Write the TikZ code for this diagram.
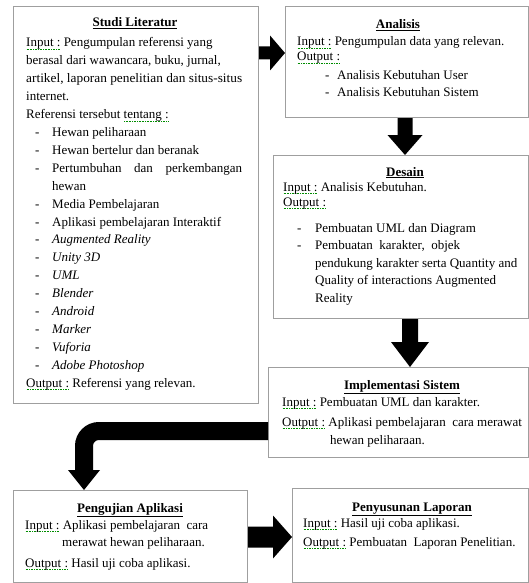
\documentclass[tikz,border=0pt]{standalone}
\usepackage{fontspec}
\usepackage{graphicx}
\setmainfont{Liberation Serif}
\usetikzlibrary{calc}

% green dotted spell-check style underline
\newcommand\sq[1]{\setbox0\hbox{#1}\rlap{\color{green!55!black}\raisebox{-2.8pt}{\hbox to \wd0{\xleaders\hbox to 1.6pt{\hss\rule{0.9pt}{0.7pt}\hss}\hfill}}}\box0{}}
\newcommand\ttl[1]{\underline{\textbf{#1}}}

\tikzset{
  box/.style={draw=gray!75, line width=1.1pt, rectangle, anchor=north west, inner sep=0pt},
  txt/.style={anchor=base west, inner sep=0pt, font=\fontsize{13}{15}\selectfont},
  ttlnode/.style={anchor=base, inner sep=0pt, font=\fontsize{13}{15}\selectfont},
  flow/.style={fill=black}
}

% right-pointing block arrow: start, tip, shaft half height, head half height, head length
\newcommand\rarrow[5]{\fill[flow] ($(#1)+(0,-#3)$) -- ($(#2)+(-#5,-#3)$) -- ($(#2)+(-#5,-#4)$) -- (#2) -- ($(#2)+(-#5,#4)$) -- ($(#2)+(-#5,#3)$) -- ($(#1)+(0,#3)$) -- cycle;}
% downward block arrow
\newcommand\darrow[5]{\fill[flow] ($(#1)+(-#3,0)$) -- ($(#2)+(-#3,-#5)$) -- ($(#2)+(-#4,-#5)$) -- (#2) -- ($(#2)+(#4,-#5)$) -- ($(#2)+(#3,-#5)$) -- ($(#1)+(#3,0)$) -- cycle;}

\begin{document}
\begin{tikzpicture}[x=1pt,y=-1pt]
\useasboundingbox (0,0) rectangle (529,583);

% ---------- boxes ----------
\node[box, minimum width=245pt, minimum height=397pt] (studi) at (13,6) {};
\node[box, minimum width=243pt, minimum height=111pt] (analisis) at (285,6) {};
\node[box, minimum width=255pt, minimum height=163pt] (desain) at (273,155) {};
\node[box, minimum width=260pt, minimum height=90pt] (impl) at (268,367) {};
\node[box, minimum width=234pt, minimum height=92pt] (uji) at (13,490) {};
\node[box, minimum width=236pt, minimum height=94pt] (lapor) at (292,488) {};

% ---------- Studi Literatur ----------
\node[ttlnode] (s0) at (135,27) {\ttl{Studi Literatur}};
\node[txt] (s1) at (26,47) {\sq{Input :} Pengumpulan referensi yang};
\node[txt] (s2) at (26,64.9) {berasal dari wawancara, buku, jurnal,};
\node[txt] (s3) at (26,82.8) {\resizebox{216pt}{\height}{artikel, laporan penelitian dan situs-situs}};
\node[txt] (s4) at (26,100.7) {internet.};
\node[txt] (s5) at (26,118.6) {Referensi tersebut \sq{tentang :}};
\foreach \i/\t/\y in {
  6/{Hewan peliharaan}/136.5,
  7/{Hewan bertelur dan beranak}/154.4,
  8/{\makebox[190pt][s]{Pertumbuhan dan perkembangan}}/172.3,
  10/{Media Pembelajaran}/208.1,
  11/{Aplikasi pembelajaran Interaktif}/226,
  12/{\itshape Augmented Reality}/243.9,
  13/{\itshape Unity 3D}/261.8,
  14/{\itshape UML}/279.7,
  15/{\itshape Blender}/297.6,
  16/{\itshape Android}/315.5,
  17/{\itshape Marker}/333.4,
  18/{\itshape Vuforia}/351.3,
  19/{\itshape Adobe Photoshop}/369.2}{
  \node[txt] (sd\i) at (35,\y) {-};
  \node[txt] (s\i) at (52,\y) {\t};
}
\node[txt] (s9) at (52,190.2) {hewan};
\node[txt] (s20) at (26,387.1) {\sq{Output :} Referensi yang relevan.};

% ---------- Analisis ----------
\node[ttlnode] (a0) at (398,29) {\ttl{Analisis}};
\node[txt] (a1) at (297,46) {\sq{Input :} Pengumpulan data yang relevan.};
\node[txt] (a2) at (297,61) {\sq{Output :}};
\node[txt] (ad3) at (325,80) {-};
\node[txt] (a3) at (337,80) {Analisis Kebutuhan User};
\node[txt] (ad4) at (325,97) {-};
\node[txt] (a4) at (337,97) {Analisis Kebutuhan Sistem};

% ---------- Desain ----------
\node[ttlnode] (d0) at (405,176) {\ttl{Desain}};
\node[txt] (d1) at (283,191) {\sq{Input :} Analisis Kebutuhan.};
\node[txt] (d2) at (283,206) {\sq{Output :}};
\node[txt] (dd3) at (297,232) {-};
\node[txt] (d3) at (315,232) {Pembuatan UML dan Diagram};
\node[txt] (dd4) at (297,249) {-};
\node[txt] (d4) at (315,249) {Pembuatan~ karakter,~ objek};
\node[txt] (d5) at (315,267) {pendukung karakter serta Quantity and};
\node[txt] (d6) at (315,284) {Quality of interactions Augmented};
\node[txt] (d7) at (315,302) {Reality};

% ---------- Implementasi Sistem ----------
\node[ttlnode] (i0) at (402,389) {\ttl{Implementasi Sistem}};
\node[txt] (i1) at (282,406) {\sq{Input :} Pembuatan UML dan karakter.};
\node[txt] (i2) at (282,426) {\sq{Output :} Aplikasi pembelajaran~ cara merawat};
\node[txt] (i3) at (330,444) {hewan peliharaan.};

% ---------- Pengujian Aplikasi ----------
\node[ttlnode] (u0) at (130,512) {\ttl{Pengujian Aplikasi}};
\node[txt] (u1) at (25,529) {\sq{Input :} Aplikasi pembelajaran~ cara};
\node[txt] (u2) at (62,546) {merawat hewan peliharaan.};
\node[txt] (u3) at (25,567) {\sq{Output :} Hasil uji coba aplikasi.};

% ---------- Penyusunan Laporan ----------
\node[ttlnode] (p0) at (412,511) {\ttl{Penyusunan Laporan}};
\node[txt] (p1) at (303,527) {\sq{Input :} Hasil uji coba aplikasi.};
\node[txt] (p2) at (303,546) {\sq{Output :} Pembuatan~ Laporan Penelitian.};

% ---------- connectors ----------
\coordinate (r1) at (0,53);
\coordinate (a1s) at (studi.east |- r1);
\coordinate (a1e) at (analisis.west |- r1);
\rarrow{a1s}{a1e}{6.5}{17.5}{15}

\coordinate (c2) at (405,0);
\coordinate (a2s) at (analisis.south -| c2);
\coordinate (a2e) at (desain.north -| c2);
\darrow{a2s}{a2e}{7.5}{17.5}{20}

\coordinate (c3) at (410,0);
\coordinate (a3s) at (desain.south -| c3);
\coordinate (a3e) at (impl.north -| c3);
\darrow{a3s}{a3e}{8}{19}{25}

\coordinate (r4) at (0,431);
\coordinate (c4) at (84,0);
\coordinate (a4s) at (impl.west |- r4);
\coordinate (a4e) at (uji.north -| c4);
\draw[line width=18pt, rounded corners=15pt] (a4s) -| ($(a4e)+(0,-19.5)$);
\fill[flow] ($(a4e)+(-16,-20)$) -- (a4e) -- ($(a4e)+(16,-20)$) -- cycle;

\coordinate (r5) at (0,537);
\coordinate (a5s) at (uji.east |- r5);
\coordinate (a5e) at (lapor.west |- r5);
\rarrow{a5s}{a5e}{10.5}{21.5}{19}
\end{tikzpicture}
\end{document}
